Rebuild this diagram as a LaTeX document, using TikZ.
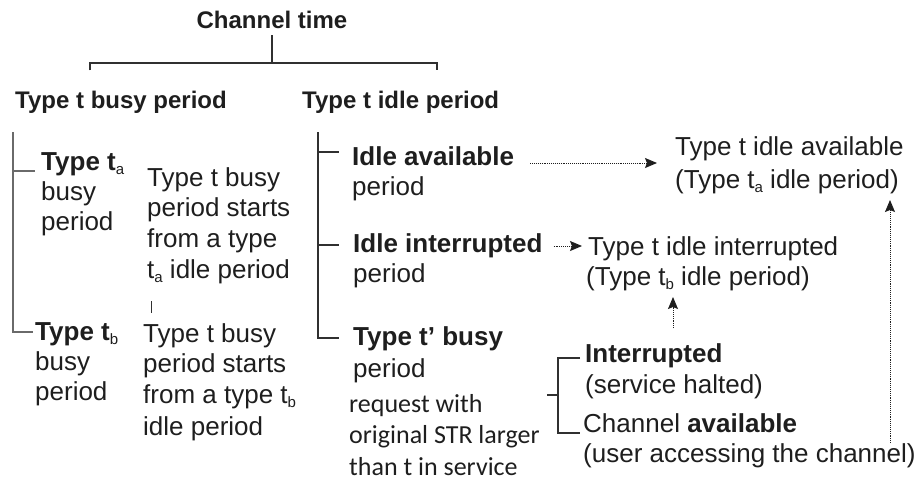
\documentclass[tikz,border=0pt]{standalone}
\usepackage{fontspec}
\setmainfont{Liberation Sans}[BoldFont={Liberation Sans Bold}]
\newfontfamily\calib{Carlito}
\usetikzlibrary{arrows.meta}
\newcommand\subs[1]{\raisebox{-4pt}{\fontsize{15}{15}\selectfont\mdseries #1}}
\definecolor{textc}{HTML}{1E1E1E}
\definecolor{linec}{HTML}{303030}
\definecolor{linel}{HTML}{6A6A6A}
\tikzset{
  txt/.style={anchor=base west, inner sep=0pt, text=textc, font=\fontsize{26}{31}\selectfont},
  btxt/.style={txt, font=\fontsize{26}{31}\selectfont\bfseries},
  head/.style={txt, font=\fontsize{24}{29}\selectfont\bfseries},
  ctxt/.style={txt, font=\fontsize{26}{31}\selectfont\calib},
  tree/.style={draw=linec, line width=1.2pt},
  ltree/.style={draw=linel, line width=1.6pt},
  dotarrow/.style={draw=textc, densely dotted, line width=0.9pt, -{Stealth[length=12pt,width=10pt,inset=2pt]}}
}
\begin{document}
\begin{tikzpicture}[x=1pt,y=-1pt]
\useasboundingbox (0,0) rectangle (918,483);
% headings
\node[head, anchor=base] (ct) at (272,28) {Channel time};
\node[head] (bp) at (15,108) {Type t busy period};
\node[head] (ip) at (302,108) {Type t idle period};
\coordinate (j0) at (272,63);
\coordinate (jl) at (90,63);
\coordinate (jr) at (437,63);
\draw[tree] ([yshift=-7pt]ct.south) -- (j0);
\draw[tree] ([yshift=20pt]bp.north -| jl) -- (jl) -- (jr) -- ([yshift=20pt]ip.north -| jr);
% left column
\node[btxt] (ta) at (41,170) {Type t\subs{a}};
\node[txt] (ta2) at (41,200) {busy};
\node[txt] (ta3) at (41,230) {period};
\node[txt] (m11) at (147,186) {Type t busy};
\node[txt] (m12) at (147,216) {period starts};
\node[txt] (m13) at (147,247) {from a type};
\node[txt] (m14) at (147,278) {t\subs{a} idle period};
\coordinate (tk1) at (151,301);
\coordinate (tk2) at (151,313);
\draw[draw=linec, line width=0.8pt] (tk1) -- (tk2);
\node[btxt] (tb) at (35,340) {Type t\subs{b}};
\node[txt] (tb2) at (35,370) {busy};
\node[txt] (tb3) at (35,400) {period};
\node[txt] (m21) at (143,342) {Type t busy};
\node[txt] (m22) at (143,372) {period starts};
\node[txt] (m23) at (143,403) {from a type t\subs{b}};
\node[txt] (m24) at (143,435) {idle period};
\coordinate (lt) at (13,132);
\draw[ltree] (lt) -- (13,332) -- ([xshift=-2pt,yshift=8pt]tb.base west);
\draw[ltree] (13,171) -- ([xshift=-6pt,yshift=-1pt]ta.base west);
% right column
\node[btxt] (ia) at (352,165) {Idle available};
\node[txt] (ia2) at (352,195) {period};
\node[btxt] (ii) at (353,252) {Idle interrupted};
\node[txt] (ii2) at (353,282) {period};
\node[btxt] (tp) at (353,345) {Type t’ busy};
\node[txt] (tp2) at (353,377) {period};
\node[ctxt] (rq1) at (349,412) {request with};
\node[ctxt] (rq2) at (349,443) {original STR larger};
\node[ctxt] (rq3) at (349,475) {than t in service};
\coordinate (rt) at (318,132);
\draw[tree] (rt) -- (318,338) -- ([xshift=-14pt,yshift=7pt]tp.base west);
\draw[tree] (318,152) -- ([xshift=-13pt,yshift=13pt]ia.base west);
\draw[tree] (318,245) -- ([xshift=-14pt,yshift=7pt]ii.base west);
% targets
\node[txt] (tia) at (675,155) {Type t idle available};
\node[txt] (tia2) at (675,188) {(Type t\subs{a} idle period)};
\node[txt] (tii) at (588,255) {Type t idle interrupted};
\node[txt] (tii2) at (586,285) {(Type t\subs{b} idle period)};
% sub tree
\node[btxt] (int) at (585,362) {Interrupted};
\node[txt] (int2) at (585,393) {(service halted)};
\node[txt] (ca) at (583,432) {Channel \textbf{available}};
\node[txt] (ca2) at (583,462) {(user accessing the channel)};
\coordinate (sj) at (558,395);
\draw[tree] ([xshift=-11pt]sj) -- (sj);
\draw[tree] ([xshift=-5pt,yshift=4pt]int.base west) -- (558,358) -- (558,433) -- ([xshift=-3pt,yshift=-1pt]ca.base west);
% arrows
\draw[dotarrow] ([xshift=16pt,yshift=2pt]ia.base east) -- ([xshift=-18pt,yshift=2pt]tia.base west |- ia.base east);
\draw[dotarrow] ([xshift=11pt,yshift=6pt]ii.base east) -- ([xshift=-6pt,yshift=6pt]tii.base west |- ii.base east);
\coordinate (a3s) at (673,328);
\coordinate (a3e) at (673,297);
\draw[dotarrow] (a3s) -- (a3e);
\coordinate (a4s) at (890,443);
\coordinate (a4e) at (890,200);
\draw[dotarrow] (a4s) -- (a4e);
\end{tikzpicture}
\end{document}
